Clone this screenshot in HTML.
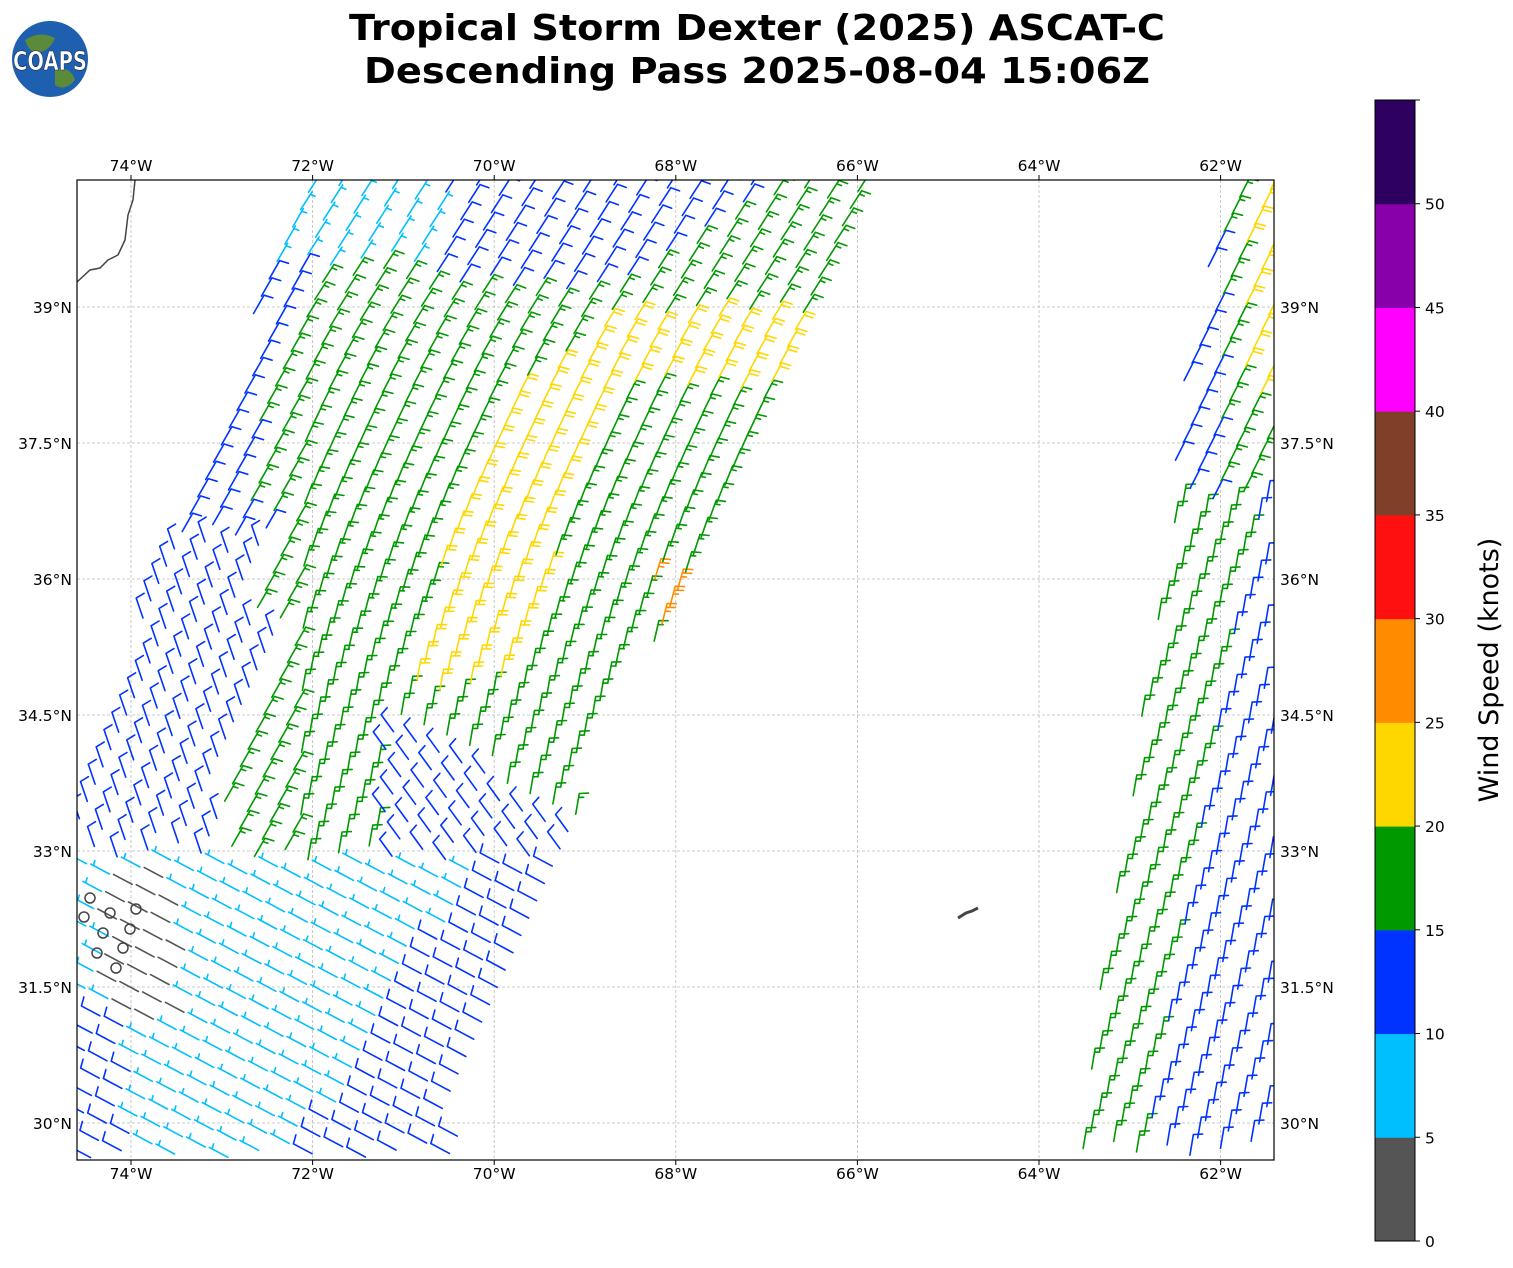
<!DOCTYPE html>
<html><head><meta charset="utf-8">
<style>
html,body{margin:0;padding:0;background:#fff;}
body{width:1513px;height:1264px;overflow:hidden;font-family:"DejaVu Sans","Liberation Sans",sans-serif;}
</style></head>
<body>
<svg id="s" width="1513" height="1264" xmlns="http://www.w3.org/2000/svg" font-family="DejaVu Sans, Liberation Sans, sans-serif">
<defs><clipPath id="mc"><rect x="77" y="180" width="1197" height="980"/></clipPath></defs>
<rect width="1513" height="1264" fill="#fff"/>
<text x="757" y="40" font-size="36" font-weight="bold" text-anchor="middle" textLength="816" lengthAdjust="spacingAndGlyphs">Tropical Storm Dexter (2025) ASCAT-C</text>
<text x="757" y="83" font-size="36" font-weight="bold" text-anchor="middle" textLength="786" lengthAdjust="spacingAndGlyphs">Descending Pass 2025-08-04 15:06Z</text>
<circle cx="50" cy="59" r="38" fill="#1f5fb0"/>
<path d="M25 40 Q40 30 55 38 Q50 50 40 52 Q30 55 25 40Z" fill="#5a8a3a"/>
<path d="M55 70 Q70 65 75 80 Q65 92 55 85Z" fill="#5a8a3a"/>
<text x="50" y="70" font-size="26" font-weight="bold" fill="#fff" stroke="#123" stroke-width="0.6" text-anchor="middle" textLength="74" lengthAdjust="spacingAndGlyphs">COAPS</text>
<g id="grid" stroke="#bbb" stroke-width="0.8" stroke-dasharray="3,2"></g>
<g id="barbs" fill="none" stroke-width="1.6" stroke-linecap="round" clip-path="url(#mc)"></g>
<path d="M77 282 L90 270 L100 268 L108 260 L118 255 L125 240 L128 215 L133 200 L135 180" fill="none" stroke="#444" stroke-width="1.5"/>
<path d="M958 918 L966 913 L972 911 L978 908" fill="none" stroke="#444" stroke-width="3"/>
<g fill="none" stroke="#444" stroke-width="1.5">
<circle cx="90" cy="898" r="5"/><circle cx="84" cy="917" r="5"/><circle cx="110" cy="913" r="5"/><circle cx="136" cy="909" r="5"/><circle cx="103" cy="933" r="5"/><circle cx="130" cy="929" r="5"/><circle cx="97" cy="953" r="5"/><circle cx="123" cy="948" r="5"/><circle cx="116" cy="968" r="5"/>
</g>
<rect x="77" y="180" width="1197" height="980" fill="none" stroke="#000" stroke-width="1.2"/>
<g id="labels" font-size="15.5"></g>
<g id="cb"></g>
<text transform="translate(1498,670) rotate(-90)" font-size="27" text-anchor="middle">Wind Speed (knots)</text>
</svg>
<script>
(function(){
var NS="http://www.w3.org/2000/svg";
function el(tag,attrs,parent,txt){var e=document.createElementNS(NS,tag);for(var k in attrs)e.setAttribute(k,attrs[k]);if(txt!=null)e.textContent=txt;parent.appendChild(e);return e;}
var grid=document.getElementById('grid'),lab=document.getElementById('labels');
[74,72,70,68,66,64,62].forEach(function(l){var x=131+(74-l)*90.8;
 el('line',{x1:x,y1:180,x2:x,y2:1160},grid);
 el('line',{x1:x,y1:180,x2:x,y2:175,stroke:'#000'},lab);
 el('line',{x1:x,y1:1160,x2:x,y2:1165,stroke:'#000'},lab);
 el('text',{x:x,y:171,'text-anchor':'middle'},lab,l+'°W');
 el('text',{x:x,y:1179,'text-anchor':'middle'},lab,l+'°W');});
[[39,'39°N'],[37.5,'37.5°N'],[36,'36°N'],[34.5,'34.5°N'],[33,'33°N'],[31.5,'31.5°N'],[30,'30°N']].forEach(function(a){var y=1123-(a[0]-30)*90.67;
 el('line',{x1:77,y1:y,x2:1274,y2:y},grid);
 el('text',{x:72,y:y+6,'text-anchor':'end'},lab,a[1]);
 el('text',{x:1280,y:y+6},lab,a[1]);});
var cols=['#555555','#00bfff','#0033ff','#009900','#ffd700','#ff8c00','#ff1010','#803f28','#ff00ff','#8800aa','#2e0060'];
var cb=document.getElementById('cb'),top=100,bot=1241,h=(bot-top)/11;
for(var i=0;i<11;i++){el('rect',{x:1375,y:bot-(i+1)*h,width:40,height:h+0.5,fill:cols[i]},cb);}
el('rect',{x:1375,y:top,width:40,height:bot-top,fill:'none',stroke:'#000','stroke-width':1},cb);
for(var i=0;i<=11;i++){var y=bot-i*h;el('line',{x1:1415,y1:y,x2:1420,y2:y,stroke:'#000'},cb);
 if(i<=10)el('text',{x:1425,y:y+6,'font-size':15.5},cb,String(i*5));}
var bg=document.getElementById('barbs');
function inPoly(x,y,p){var c=false;for(var i=0,j=p.length-1;i<p.length;j=i++){var xi=p[i][0],yi=p[i][1],xj=p[j][0],yj=p[j][1];if(((yi>y)!=(yj>y))&&(x<(xj-xi)*(y-yi)/(yj-yi)+xi))c=!c;}return c;}
var L=[[300,182],[885,182],[700,560],[610,720],[560,860],[510,1000],[450,1158],[79,1158],[79,790],[180,515]];
var R=[[1245,182],[1272,182],[1272,1158],[1075,1158],[1170,520],[1185,330],[1225,220]];
function lerp(y,pts){for(var i=0;i<pts.length-1;i++){if(y>=pts[i][0]&&y<=pts[i+1][0]){var t=(y-pts[i][0])/(pts[i+1][0]-pts[i][0]);return pts[i][1]+t*(pts[i+1][1]-pts[i][1]);}}return null;}
function leftEdge(y){return y<515?300-(y-182)*0.36:180-(y-515)*0.38;}
function bottomZone(x,y){return y>860 || (x>380 && y>720+(x-400)*0.6);}
function blueLeft(x,y){return (x<leftEdge(y)+(y<515?45:100)) || (y>620 && x<290-(y-600)*0.33);}
function spL(x,y){
 if(bottomZone(x,y)){
   if(y>860){
     if(x>110 && x<185 && y<1020 && y>870) return 3;
     if(x<130 && y>1010) return 12;
     if(x>470-(y-880)*0.6) return 12;
     return 7;}
   return 12;}
 if(y<265 && x<440) return 7;
 if(y<290 && x>430 && x<790-(y-180)*1.5) return 12;
 if(blueLeft(x,y)) return 12;
 if(y<390 && y>315 && x>600) return 22;
 var xc=lerp(y,[[320,660],[420,540],[600,485],[690,460]]);
 if(xc!==null && Math.abs(x-xc)<55){ return 22;}
 if(x>650 && y>575 && y<640) return 27;
 return 17;}
function spR(x,y){var le=1075+(1160-y)*(175/980);
 if(y<400&&x>1240) return 22;
 if(y<500){ return x<1220?12:17;}
 if(x-le<65) return 17; return 12;}
function barb(x,y,s,ang){
 var c=cols[Math.floor(s/5)],dx=Math.cos(ang),dy=Math.sin(ang),Ls=21;
 var tx=x+dx*Ls,ty=y+dy*Ls;
 var d='M'+x.toFixed(1)+' '+y.toFixed(1)+'L'+tx.toFixed(1)+' '+ty.toFixed(1);
 var px=-dy,py=dx;
 var full=Math.floor(s/10),half=(s%10)>=5?1:0,pos=0;
 for(var k=0;k<full;k++){var bx=tx-dx*pos,by=ty-dy*pos;d+='M'+bx.toFixed(1)+' '+by.toFixed(1)+'l'+(px*9+dx*2).toFixed(1)+' '+(py*9+dy*2).toFixed(1);pos+=4;}
 if(half){if(full==0)pos=3;var bx=tx-dx*pos,by=ty-dy*pos;d+='M'+bx.toFixed(1)+' '+by.toFixed(1)+'l'+(px*5+dx*1).toFixed(1)+' '+(py*5+dy*1).toFixed(1);}
 el('path',{d:d,stroke:c},bg);}
function angL(x,y){
 if(bottomZone(x,y)) return y>860?-2.65:-2.2;
 if(y>540 && blueLeft(x,y)) return -1.9;
 if(x<300) return -1.05;
 var t=Math.min(1,Math.max(0,(y-300)/400));
 return -1.0-0.4*t;}
var ux=0.413,uy=-0.911,vx=0.911,vy=0.413;
for(var a=-80;a<80;a++)for(var b=-60;b<60;b++){
 var x=600+a*19*ux+b*25*vx, y=700+a*19*uy+b*25*vy;
 if(inPoly(x,y,L)){barb(x,y,spL(x,y),angL(x,y));}
 else if(inPoly(x,y,R)){barb(x,y,spR(x,y),y<500?-1.1:-1.4);}
}
})();
</script>
</body></html>
